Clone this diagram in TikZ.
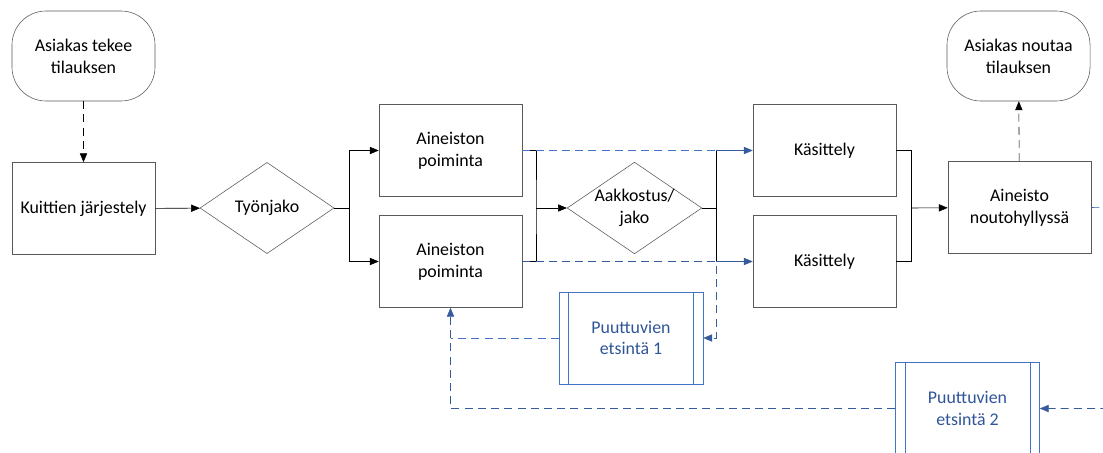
\documentclass[tikz,border=0pt]{standalone}
\usepackage{fontspec}
\setmainfont{Carlito}
\usetikzlibrary{shapes.geometric,arrows.meta}

\definecolor{viiva}{RGB}{89,89,89}
\definecolor{sininen}{RGB}{68,114,196}
\definecolor{tsininen}{RGB}{47,85,151}

\begin{document}
\begin{tikzpicture}[x=0.025cm,y=-0.025cm,
	font=\fontsize{12.7}{15.5}\selectfont,
	vaihe/.style={draw=viiva,rectangle,minimum width=3.575cm,minimum height=2.3cm,align=center,inner sep=2pt},
	paate/.style={draw=viiva,rectangle,rounded corners=0.85cm,minimum width=3.575cm,minimum height=2.25cm,align=center},
	paatos/.style={draw=viiva,diamond,aspect=1.47,minimum width=3.35cm,minimum height=2.28cm,inner sep=0pt,align=center},
	etsinta/.style={draw=sininen,rectangle,minimum width=3.6cm,minimum height=2.3cm,align=center,text=tsininen},
	nuoli/.style={-{Triangle[length=2.2mm,width=1.8mm]},black},
	katko/.style={dash pattern=on 0.2cm off 0.13cm},
	sininuoli/.style={-{Triangle[length=2.2mm,width=1.8mm]},sininen!80!black}]

\useasboundingbox (0,0) rectangle (1103,453);

% nodes
\node[paate] (alku) at (83.5,56) {Asiakas tekee\\tilauksen};
\node[vaihe] (kuitit) at (83.5,208.5) {Kuittien järjestely};
\node[paatos] (tyonjako) at (267,208) {Työnjako};
\node[vaihe] (poim1) at (450.5,150.5) {Aineiston\\poiminta};
\node[vaihe] (poim2) at (450.5,261.5) {Aineiston\\poiminta};
\node[paatos] (aakk) at (634.5,208) {Aakkostus/\\jako};
\node[vaihe] (kasit1) at (824.5,150.5) {Käsittely};
\node[vaihe] (kasit2) at (824.5,261.5) {Käsittely};
\node[vaihe] (nouto) at (1019.5,207.5) {Aineisto\\noutohyllyssä};
\node[paate] (loppu) at (1018.5,56) {Asiakas noutaa\\tilauksen};
\node[etsinta] (ets1) at (631,338) {Puuttuvien\\etsintä 1};
\node[etsinta] (ets2) at (967.5,408.5) {Puuttuvien\\etsintä 2};

% side lines of the search boxes
\draw[sininen] ([xshift=0.25cm]ets1.north west) -- ([xshift=0.25cm]ets1.south west)
	([xshift=-0.25cm]ets1.north east) -- ([xshift=-0.25cm]ets1.south east)
	([xshift=0.25cm]ets2.north west) -- ([xshift=0.25cm]ets2.south west)
	([xshift=-0.25cm]ets2.north east) -- ([xshift=-0.25cm]ets2.south east);

% branch points
\coordinate (h1) at (349,208);
\coordinate (h2) at (536,208);
\coordinate (h3) at (716,208);
\coordinate (h4) at (911,208);
\coordinate (oikea) at (1125,208);

% main flow
\draw[nuoli,katko] (alku) -- (kuitit);
\draw[nuoli] (kuitit) -- (tyonjako);
\draw (tyonjako.east) -- (h1);
\draw[nuoli] (h1) |- (poim1.west);
\draw[nuoli] (h1) |- (poim2.west);
\draw (poim1.east) -| (h2) |- (poim2.east);
\draw[nuoli] (h2) -- (aakk);
\draw (aakk.east) -- (h3);
\draw ([yshift=0.02cm]h3 |- poim1.east) -- ([yshift=-0.02cm]h3 |- poim2.east);
\draw[sininuoli] (h3 |- kasit1.west) -- (kasit1.west);
\draw[sininuoli] (h3 |- kasit2.west) -- (kasit2.west);
\draw (kasit1.east) -| (h4) |- (kasit2.east);
\draw[nuoli] (h4) -- (nouto);
\draw[nuoli,katko] (nouto) -- (loppu);

% missing items (dashed)
\draw[sininen,katko] (poim1.east) -- (h3 |- poim1.east);
\draw[sininuoli,katko] (poim2.east) -- (h3 |- poim2.east) -- (h3 |- ets1.east) -- (ets1.east);
\draw[sininen,katko] (ets1.west) -- (poim2.south |- ets1.west);
\draw[sininuoli,katko] (ets2.west) -| (poim2.south);
\draw[sininuoli,katko] (nouto.east) -- (oikea) |- (ets2.east);

\end{tikzpicture}
\end{document}
